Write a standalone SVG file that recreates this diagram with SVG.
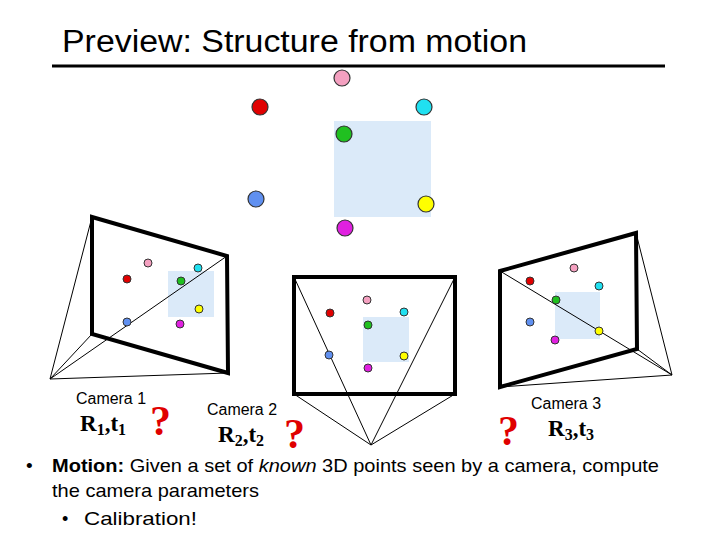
<svg xmlns="http://www.w3.org/2000/svg" width="720" height="540" viewBox="0 0 720 540">
<style>
.sans{font-family:"Liberation Sans",Arial,sans-serif}
.cam{font-family:"Liberation Sans",Arial,sans-serif;font-size:16px}
.R{font-family:"Liberation Serif","Times New Roman",serif;font-size:23px;font-weight:bold}
.q{font-family:"Liberation Serif","Times New Roman",serif;font-size:42px;font-weight:bold;fill:#e00000}
.frame{fill:none;stroke:#000;stroke-width:4}
.ray{fill:none;stroke:#000;stroke-width:1}
.sq{fill:#dbeaf9}
circle{stroke:#333;stroke-width:1}
.b circle{stroke-width:1.2}
</style>
<rect width="720" height="540" fill="#fff"/>
<text class="sans" x="62" y="52" font-size="31" textLength="465" lengthAdjust="spacingAndGlyphs">Preview: Structure from motion</text>
<line x1="52" y1="66" x2="665" y2="66" stroke="#000" stroke-width="3"/>
<g id="points3d" class="b">
<rect class="sq" x="334" y="121" width="97" height="96"/>
<circle cx="342" cy="78" r="8" fill="#f4a0c0"/>
<circle cx="260" cy="107" r="8" fill="#e00000"/>
<circle cx="424" cy="107" r="8" fill="#20e0f0"/>
<circle cx="344" cy="134" r="8" fill="#20c020"/>
<circle cx="256" cy="199" r="8" fill="#6090f0"/>
<circle cx="426" cy="204" r="8" fill="#ffff00"/>
<circle cx="345" cy="228" r="8" fill="#e020e0"/>
</g>
<g id="camera1">
<rect class="sq" x="168" y="271" width="46" height="46"/>
<g class="ray"><line x1="50" y1="379" x2="92" y2="217"/><line x1="50" y1="379" x2="227" y2="256"/><line x1="50" y1="379" x2="228" y2="373"/><line x1="50" y1="379" x2="92" y2="334"/></g>
<polygon class="frame" points="92,217 227,256 228,373 92,334"/>
<circle cx="148" cy="263" r="4" fill="#f4a0c0"/><circle cx="127" cy="279" r="4" fill="#e00000"/><circle cx="198" cy="268" r="4" fill="#20e0f0"/><circle cx="181" cy="281" r="4" fill="#20c020"/><circle cx="199" cy="309" r="4" fill="#ffff00"/><circle cx="127" cy="322" r="4" fill="#6090f0"/><circle cx="180" cy="324" r="4" fill="#e020e0"/>
<text class="cam" x="76" y="404" textLength="70" lengthAdjust="spacingAndGlyphs">Camera 1</text>
<text class="R" x="80" y="431">R<tspan font-size="16" dy="4">1</tspan><tspan dy="-4">,t</tspan><tspan font-size="16" dy="4">1</tspan></text>
<text class="q" x="150" y="435">?</text>
</g>
<g id="camera2">
<rect class="sq" x="363" y="317" width="46" height="45"/>
<g class="ray"><line x1="371" y1="445" x2="294" y2="277"/><line x1="371" y1="445" x2="455" y2="277"/><line x1="371" y1="445" x2="294" y2="394"/><line x1="371" y1="445" x2="455" y2="394"/></g>
<rect class="frame" x="294" y="277" width="161" height="117"/>
<circle cx="367" cy="300" r="4" fill="#f4a0c0"/><circle cx="330" cy="313" r="4" fill="#e00000"/><circle cx="404" cy="312" r="4" fill="#20e0f0"/><circle cx="368" cy="325" r="4" fill="#20c020"/><circle cx="404" cy="356" r="4" fill="#ffff00"/><circle cx="329" cy="355" r="4" fill="#6090f0"/><circle cx="368" cy="368" r="4" fill="#e020e0"/>
<text class="cam" x="207" y="415" textLength="70" lengthAdjust="spacingAndGlyphs">Camera 2</text>
<text class="R" x="218" y="442">R<tspan font-size="16" dy="4">2</tspan><tspan dy="-4">,t</tspan><tspan font-size="16" dy="4">2</tspan></text>
<text class="q" x="284" y="448">?</text>
</g>
<g id="camera3">
<rect class="sq" x="555" y="292" width="45" height="47"/>
<g class="ray"><line x1="672" y1="375" x2="500" y2="271"/><line x1="672" y1="375" x2="636" y2="233"/><line x1="672" y1="375" x2="637" y2="349"/><line x1="672" y1="375" x2="500" y2="387"/></g>
<polygon class="frame" points="500,271 636,233 637,349 500,387"/>
<circle cx="574" cy="268" r="4" fill="#f4a0c0"/><circle cx="530" cy="281" r="4" fill="#e00000"/><circle cx="599" cy="286" r="4" fill="#20e0f0"/><circle cx="556" cy="300" r="4" fill="#20c020"/><circle cx="599" cy="331" r="4" fill="#ffff00"/><circle cx="530" cy="322" r="4" fill="#6090f0"/><circle cx="555" cy="340" r="4" fill="#e020e0"/>
<text class="cam" x="531" y="409" textLength="70" lengthAdjust="spacingAndGlyphs">Camera 3</text>
<text class="R" x="548" y="436">R<tspan font-size="16" dy="4">3</tspan><tspan dy="-4">,t</tspan><tspan font-size="16" dy="4">3</tspan></text>
<text class="q" x="498" y="445">?</text>
</g>
<g class="sans" font-size="19">
<text x="26" y="472">•</text>
<text x="52" y="472" textLength="607" lengthAdjust="spacingAndGlyphs"><tspan font-weight="bold">Motion:</tspan> Given a set of <tspan font-style="italic">known</tspan> 3D points seen by a camera, compute</text>
<text x="52" y="497" textLength="207" lengthAdjust="spacingAndGlyphs">the camera parameters</text>
<text x="62" y="525" font-size="18">•</text>
<text x="84" y="525" font-size="19" textLength="113" lengthAdjust="spacingAndGlyphs">Calibration!</text>
</g>
</svg>
